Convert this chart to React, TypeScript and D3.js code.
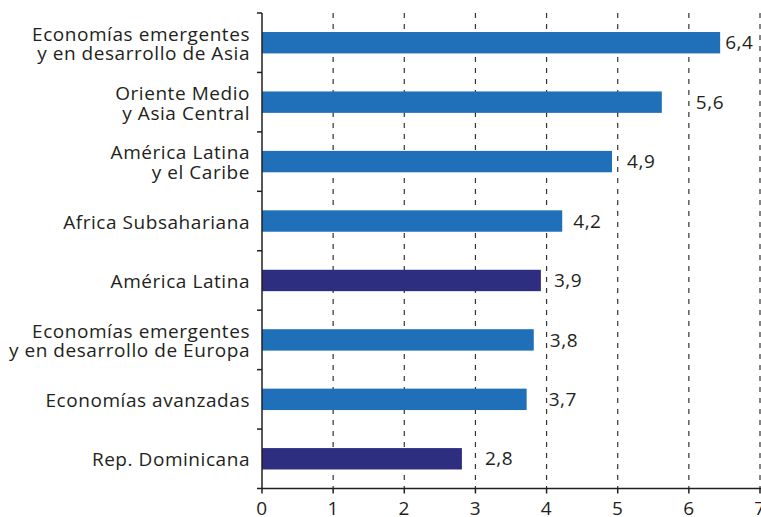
import React from "react";
import * as d3 from "d3";

const categories = [
  "Economías emergentes\ny en desarrollo de Asia",
  "Oriente Medio\ny Asia Central",
  "América Latina\ny el Caribe",
  "Africa Subsahariana",
  "América Latina",
  "Economías emergentes\ny en desarrollo de Europa",
  "Economías avanzadas",
  "Rep. Dominicana",
];
const values = [6.44, 5.62, 4.92, 4.22, 3.92, 3.82, 3.72, 2.81];
const highlighted = [false, false, false, false, true, false, false, true];
const valueLabels = ["6,4", "5,6", "4,9", "4,2", "3,9", "3,8", "3,7", "2,8"];
const xTicks = [0, 1, 2, 3, 4, 5, 6, 7];

// layout: extra horizontal offset of each value label from its bar end
const labelDx = [5, 34, 15, 11, 13, 16, 22, 23];

const W = 761;
const H = 517;
const left = 262;
const right = 760;
const top = 13;
const bottom = 488.5;
const FONT = "'Open Sans', 'Noto Sans', sans-serif";
const FS = 19;
const LS = 0.55;
const TEXT = "#231f20";
const BLUE = "#1f70b8";
const NAVY = "#2e2e80";

export default function App() {
  const x = d3.scaleLinear().domain([0, 7]).range([left, right]);
  const y = d3
    .scaleBand<number>()
    .domain(d3.range(categories.length))
    .range([top, bottom])
    .paddingInner(0.64)
    .paddingOuter(0.32);
  const step = y.step();
  const boundaries = d3.range(categories.length + 1).map((i) => top + i * step);

  return (
    <svg
      width={W}
      height={H}
      style={{ position: "absolute", left: 0, top: 0, background: "#fff" }}
      fontFamily={FONT}
      letterSpacing={LS}
    >
      {/* grid lines */}
      {xTicks.slice(1).map((t) => (
        <line
          key={"g" + t}
          x1={x(t)}
          x2={x(t)}
          y1={top}
          y2={bottom}
          stroke="#333"
          strokeWidth={1.2}
          strokeDasharray="5,6"
        />
      ))}
      {/* bars */}
      {values.map((v, i) => (
        <rect
          key={"b" + i}
          x={x(0)}
          y={y(i)}
          width={x(v) - x(0)}
          height={y.bandwidth()}
          fill={highlighted[i] ? NAVY : BLUE}
        />
      ))}
      {/* value labels */}
      {values.map((v, i) => (
        <text
          key={"v" + i}
          x={x(v) + labelDx[i]}
          y={(y(i) as number) + y.bandwidth() / 2}
          dy="0.35em"
          fontSize={FS}
          fill={TEXT}
        >
          {valueLabels[i]}
        </text>
      ))}
      {/* y axis */}
      <line x1={left} x2={left} y1={top} y2={bottom} stroke={TEXT} strokeWidth={1.5} />
      {boundaries.map((b, i) => (
        <line key={"yt" + i} x1={left - 5} x2={left} y1={b} y2={b} stroke={TEXT} strokeWidth={1.5} />
      ))}
      {categories.map((c, i) => {
        const lines = c.split("\n");
        const cy = (y(i) as number) + y.bandwidth() / 2;
        return (
          <text key={"c" + i} textAnchor="end" fontSize={FS} fill={TEXT}>
            {lines.map((l, j) => (
              <tspan
                key={j}
                x={left - 12}
                y={cy + 1 + (j - (lines.length - 1) / 2) * 19.5}
                dy="0.35em"
              >
                {l}
              </tspan>
            ))}
          </text>
        );
      })}
      {/* x axis */}
      <line x1={left} x2={right + 1} y1={bottom} y2={bottom} stroke={TEXT} strokeWidth={1.5} />
      {xTicks.map((t) => (
        <g key={"xt" + t}>
          <line x1={x(t)} x2={x(t)} y1={bottom} y2={bottom + 5} stroke={TEXT} strokeWidth={1.5} />
          <text x={x(t)} y={bottom + 26} textAnchor="middle" fontSize={FS} fill={TEXT}>
            {t}
          </text>
        </g>
      ))}
    </svg>
  );
}
